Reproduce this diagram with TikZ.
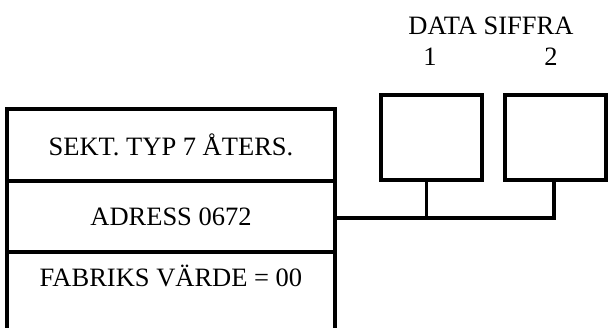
\documentclass[tikz,border=0pt]{standalone}
\usepackage{fontspec}
\setmainfont{Liberation Serif}
\usetikzlibrary{positioning}

\begin{document}
\begin{tikzpicture}[x=1pt, y=-1pt, line width=3.2pt,
	row/.style={draw, outer sep=0pt, minimum width=328pt,
		minimum height=72pt, font=\fontsize{26.5}{30}\selectfont},
	dbox/.style={draw, outer sep=0pt, minimum width=101pt, minimum height=85pt},
	lbl/.style={font=\fontsize{26.5}{30}\selectfont, inner sep=0pt, anchor=base}]
	\useasboundingbox (0,0) rectangle (611,327);

	\node [row] (sekt) at (171,145) {SEKT. TYP 7 ÅTERS.};
	\node [row, minimum height=71pt, below=0pt of sekt] (adress) {ADRESS 0672};
	\node [lbl] (fabriks) at (171,286) {FABRIKS VÄRDE = 00};
	\draw (adress.south west) -- ++(0,80);
	\draw (adress.south east) -- ++(0,80);

	\node [dbox] (d1) at (431.5,137.5) {};
	\node [dbox, right=23pt of d1] (d2) {};

	\node [lbl] (siffra) at (491,34) {DATA SIFFRA};
	\node [lbl] (n1) at (430,65) {1};
	\node [lbl] (n2) at (551,65) {2};

	\draw ([xshift=-5pt]d1.south) -- ++(0,39.5);
	\draw ([yshift=-1.5pt]adress.east) -| ([xshift=-1.5pt]d2.south);

\end{tikzpicture}
\end{document}
